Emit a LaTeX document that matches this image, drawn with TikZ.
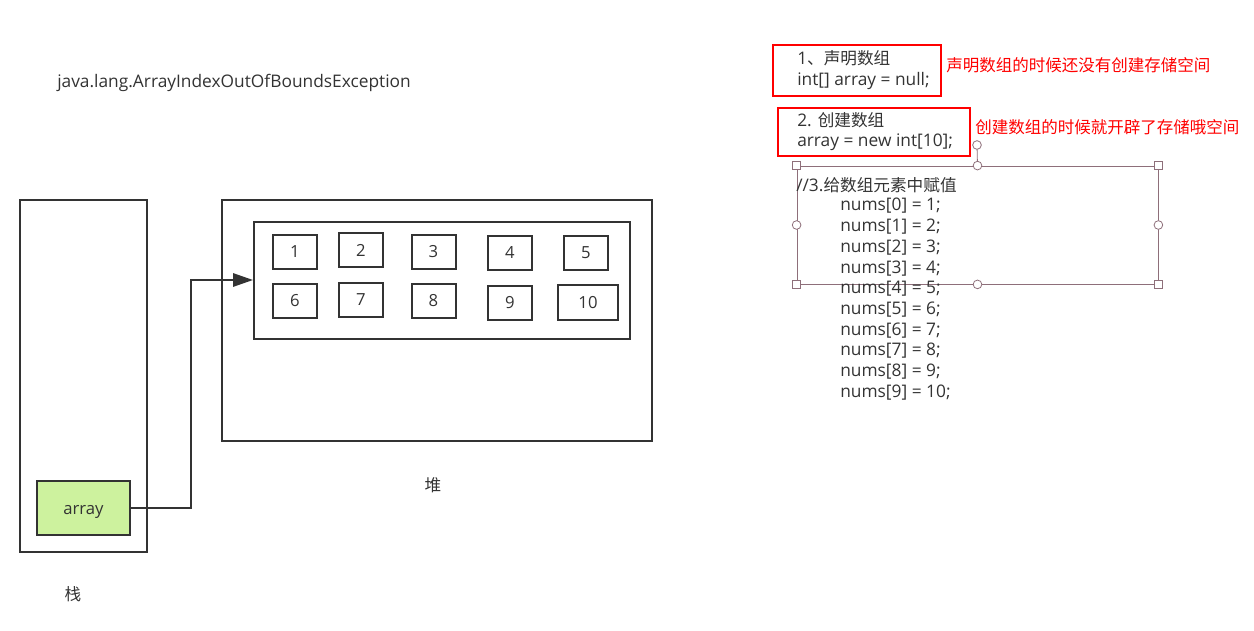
\documentclass[tikz,border=0pt]{standalone}
\usepackage{fontspec}
\setmainfont{Open Sans}
\newfontfamily\cjk[Scale=0.96]{Noto Sans CJK SC}
\usetikzlibrary{arrows.meta,positioning,calc}
\definecolor{ink}{HTML}{333333}
\definecolor{leaf}{HTML}{CDF29E}
\definecolor{handle}{HTML}{8E6F7A}
\newcommand{\zh}[1]{{\cjk #1}}

\begin{document}
\begin{tikzpicture}[
    x=0.75pt, y=-0.75pt,
    frame/.style={draw=ink, line width=1.5pt, inner sep=0pt},
    cell/.style={frame, minimum width=33pt, minimum height=25.5pt, text=ink, font=\fontsize{12.5}{14}\selectfont},
    wire/.style={draw=ink, line width=1.5pt, -{Triangle[length=15pt, width=10pt]}},
    redbox/.style={draw=red, line width=1.5pt, inner sep=0pt},
    code/.style={text=ink, inner sep=0pt, font=\fontsize{13}{15.6}\selectfont, align=left},
    note/.style={text=red, inner sep=0pt, font=\fontsize{12.9}{14}\cjk},
    label/.style={text=ink, inner sep=0pt, font=\fontsize{13}{14}\selectfont},
    selbox/.style={draw=handle, line width=0.6pt, inner sep=0pt, minimum width=270.75pt, minimum height=88.5pt},
    sqhandle/.style={draw=handle, fill=white, line width=0.6pt, minimum size=6pt, inner sep=0pt},
    ochandle/.style={draw=handle, fill=white, line width=0.6pt, circle, minimum size=6.5pt, inner sep=0pt}
  ]
  \useasboundingbox (0,0) rectangle (1254,631);

  \node[label, anchor=west] (exc) at (57,83) {java.lang.ArrayIndexOutOfBoundsException};

  % stack
  \node[frame, minimum width=95.25pt, minimum height=264pt] (stack) at (83.5,376) {};
  \node[frame, fill=leaf, minimum width=69.75pt, minimum height=40.5pt, text=ink, font=\fontsize{12.5}{14}\selectfont, text height=10pt, text depth=0pt] (arr) at (83.5,508) {array};
  \node[label] (stacklbl) at (73,594) {\zh{栈}};

  % heap
  \node[frame, minimum width=322.5pt, minimum height=180.75pt] (heap) at (437,320.5) {};
  \node[frame, minimum width=282pt, minimum height=87.75pt] (arrbox) at (442,280.5) {};
  \node[label] (heaplbl) at (433,485) {\zh{堆}};

  \node[cell] (c1) at (295,252) {1};
  \node[cell] (c2) at (361,250) {2};
  \node[cell] (c3) at (433.5,252) {3};
  \node[cell] (c4) at (510,253) {4};
  \node[cell] (c5) at (586,253) {5};
  \node[cell] (c6) at (295,301) {6};
  \node[cell] (c7) at (361,300) {7};
  \node[cell] (c8) at (433.5,301) {8};
  \node[cell] (c9) at (510,303) {9};
  \node[cell, minimum width=45pt] (c10) at (588,302.5) {10};

  \coordinate (bend) at (191,280);
  \draw[wire] (arr.east) -| (bend) -- (arrbox.west |- bend);

  % declaration / creation
  \node[redbox, minimum width=126pt, minimum height=38.25pt] (decl) at (857,70.5) {};
  \node[code, anchor=west] (decltxt) at (797,70) {1\zh{、声明数组}\\int[] array = null;};
  \node[note, anchor=west] (declnote) at (946,65) {声明数组的时候还没有创建存储空间};

  \node[redbox, minimum width=144pt, minimum height=36pt] (create) at (874,132) {};
  \node[code, anchor=west] (createtxt) at (797,131.5) {2. \zh{创建数组}\\array = new int[10];};
  \node[note, anchor=west] (createnote) at (975,127) {创建数组的时候就开辟了存储哦空间};

  % assignment (selected text box)
  \node[selbox] (assign) at (977.5,225) {};
  \node[ochandle] (rot) at (977,145) {};
  \draw[handle, line width=0.6pt] (rot) -- (assign.north);
  \foreach \a in {north west,north east,south west,south east}
    \node[sqhandle] at (assign.\a) {};
  \foreach \a in {north,south,west,east}
    \node[ochandle] at (assign.\a) {};

  \node[code, anchor=west] (asgtitle) at (796,185) {//3.\zh{给数组元素中赋值}};
  \foreach \i [evaluate=\i as \v using int(\i+1)] in {0,...,9}
    \node[code, anchor=west] (n\i) at (840,{206+20.7*\i}) {nums[\i] = \v;};
\end{tikzpicture}
\end{document}
